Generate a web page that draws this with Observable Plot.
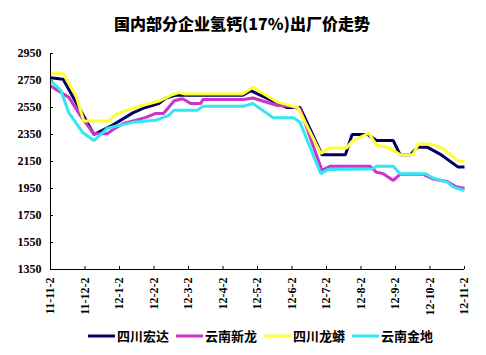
<!DOCTYPE html>
<html>
<head>
<meta charset="utf-8">
<script src="https://cdn.jsdelivr.net/npm/d3@7"></script>
<script src="https://cdn.jsdelivr.net/npm/@observablehq/plot@0.6"></script>
<style>
  html, body { margin: 0; padding: 0; background: #fff; }
  #wrap { position: relative; width: 486px; height: 355px; overflow: hidden; background: #fff; }
  #title { position: absolute; top: 13px; left: 0; width: 484px; text-align: center;
    font-family: "Noto Sans CJK SC", sans-serif; font-weight: 900; font-size: 16px; line-height: 20px; color: #000; }
  #chart { position: absolute; top: 40px; left: 0; }
  #chart svg text { font-family: "Liberation Serif", serif; font-weight: bold; }
  #legend { position: absolute; top: 327px; left: 88px; display: flex; align-items: center;
    font-family: "Noto Sans CJK SC", sans-serif; font-weight: 700; font-size: 13px; line-height: 18px; color: #000; }
  .item { display: flex; align-items: center; margin-right: 7px; }
  .item svg { margin-right: 2px; }
</style>
</head>
<body>
<div id="wrap">
  <div id="title">国内部分企业氢钙(17%)出厂价走势</div>
  <div id="chart"></div>
  <div id="legend"></div>
</div>
<script>
// ---- data ----
const seriesNames = ["四川宏达", "云南新龙", "四川龙蟒", "云南金地"];
const seriesColors = ["#000066", "#cc33cc", "#ffff33", "#33e6f0"];
const xTickLabels = ["11-11-2","11-12-2","12-1-2","12-2-2","12-3-2","12-4-2","12-5-2","12-6-2","12-7-2","12-8-2","12-9-2","12-10-2","12-11-2"];
const yTicks = [1350, 1550, 1750, 1950, 2150, 2350, 2550, 2750, 2950];

const hongdaDates = ["2011-11-02","2011-11-13","2011-12-10","2011-12-27","2012-01-14","2012-01-25","2012-02-06","2012-02-12","2012-02-20","2012-04-19","2012-04-26","2012-05-28","2012-06-09","2012-06-28","2012-07-19","2012-07-25","2012-08-08","2012-08-16","2012-08-31","2012-09-06","2012-09-15","2012-09-21","2012-09-30","2012-10-11","2012-10-27","2012-11-02"];
const hongdaValues = [2770,2760,2350,2420,2510,2550,2580,2620,2640,2640,2675,2550,2550,2200,2200,2350,2350,2305,2305,2200,2200,2255,2255,2205,2110,2110];

const xinlongDates = ["2011-11-02","2011-11-18","2011-11-28","2011-12-10","2011-12-22","2011-12-27","2012-01-05","2012-01-16","2012-01-25","2012-02-03","2012-02-10","2012-02-19","2012-02-26","2012-03-04","2012-03-13","2012-03-15","2012-04-20","2012-04-28","2012-05-20","2012-05-31","2012-06-09","2012-06-28","2012-07-05","2012-08-10","2012-08-16","2012-08-22","2012-08-31","2012-09-06","2012-09-26","2012-10-05","2012-10-18","2012-10-25","2012-11-02"];
const xinlongValues = [2710,2625,2490,2355,2355,2385,2430,2455,2475,2505,2505,2600,2615,2580,2580,2610,2610,2620,2565,2560,2540,2085,2115,2115,2070,2060,2010,2055,2055,2020,2000,1965,1950];

const longmangDates = ["2011-11-02","2011-11-13","2011-11-24","2011-12-01","2011-12-23","2011-12-31","2012-01-16","2012-02-07","2012-02-16","2012-02-23","2012-02-28","2012-04-19","2012-04-28","2012-05-20","2012-06-07","2012-06-27","2012-07-04","2012-07-20","2012-07-25","2012-08-09","2012-08-16","2012-08-28","2012-09-06","2012-09-17","2012-09-22","2012-10-02","2012-10-14","2012-10-27","2012-11-02"];
const longmangValues = [2800,2800,2640,2450,2450,2505,2550,2600,2640,2660,2650,2650,2700,2590,2550,2210,2250,2250,2300,2360,2270,2250,2200,2200,2280,2280,2245,2155,2150];

const jindiDates = ["2011-11-02","2011-11-11","2011-11-18","2011-11-30","2011-12-10","2011-12-22","2011-12-31","2012-01-14","2012-02-03","2012-02-14","2012-02-19","2012-03-10","2012-03-15","2012-04-20","2012-04-28","2012-05-16","2012-06-03","2012-06-09","2012-06-27","2012-07-03","2012-08-12","2012-08-16","2012-08-31","2012-09-06","2012-09-28","2012-10-04","2012-10-18","2012-10-23","2012-11-02"];
const jindiValues = [2750,2675,2510,2365,2305,2395,2415,2440,2455,2490,2530,2530,2560,2560,2580,2475,2475,2440,2060,2090,2095,2115,2115,2060,2060,2030,1995,1960,1935];

// ---- helpers ----
// Position on an evenly spaced monthly category axis (0 = 2011-11-02, 12 = 2012-11-02)
function monthPos(s) {
  const [y, m, d] = s.split("-").map(Number);
  const dim = new Date(Date.UTC(y, m, 0)).getUTCDate();
  return (y - 2011) * 12 + (m - 11) + (d - 2) / dim;
}
const allDates = [hongdaDates, xinlongDates, longmangDates, jindiDates];
const allValues = [hongdaValues, xinlongValues, longmangValues, jindiValues];
const rows = [];
allDates.forEach((ds, i) => ds.forEach((d, j) => rows.push({series: seriesNames[i], t: monthPos(d), value: allValues[i][j]})));
const xTicks = xTickLabels.map((_, i) => i);

const W = 486, H = 300, mL = 50, mR = 22, mT = 13, mB = 71;
const plotW = W - mL - mR, plotH = H - mT - mB;

const chart = Plot.plot({
  width: W, height: H,
  marginLeft: mL, marginRight: mR, marginTop: mT, marginBottom: mB,
  style: {background: "#fff", overflow: "visible", fontFamily: "Liberation Serif", fontWeight: "bold", fontSize: "12px"},
  x: {type: "linear", domain: [0, 12]},
  y: {domain: [1350, 2950]},
  color: {domain: seriesNames, range: seriesColors},
  marks: [
    Plot.axisY(yTicks, {tickSize: 0, tickPadding: 9, tickFormat: d => String(d), fontSize: 12, fill: "#000", label: null}),
    Plot.axisX(xTicks, {tickSize: 0, tickPadding: 8, tickRotate: -90, tickFormat: i => xTickLabels[i], fontSize: 12, fill: "#000", label: null}),
    Plot.tickY(yTicks, {y: d => d, insetRight: plotW - 3, stroke: "#000"}),
    Plot.tickX(xTicks, {x: d => d, insetTop: plotH - 3, stroke: "#000"}),
    Plot.lineY(rows, {x: "t", y: "value", z: "series", stroke: "series", strokeWidth: 3, strokeLinejoin: "miter", strokeLinecap: "butt", curve: "linear"}),
    Plot.ruleX([0], {stroke: "#000", strokeWidth: 1}),
    Plot.ruleY([1350], {stroke: "#000", strokeWidth: 1})
  ]
});
document.getElementById("chart").appendChild(chart);

// legend
const leg = document.getElementById("legend");
seriesNames.forEach((n, i) => {
  const it = document.createElement("div");
  it.className = "item";
  it.innerHTML = `<svg width="27" height="6"><line x1="0" y1="3" x2="27" y2="3" stroke="${seriesColors[i]}" stroke-width="3"/></svg><span>${n}</span>`;
  leg.appendChild(it);
});
</script>
</body>
</html>
